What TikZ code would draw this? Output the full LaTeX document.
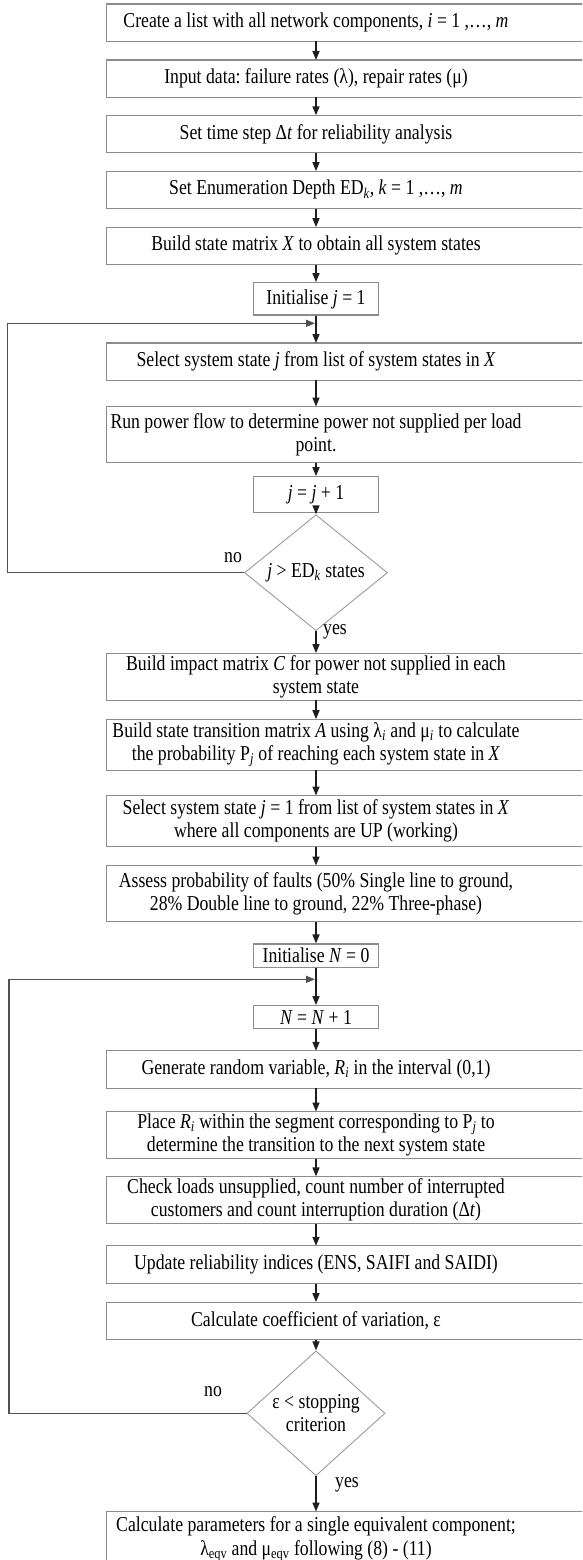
\documentclass[tikz,border=0pt]{standalone}
\usepackage{fontspec}
\setmainfont{Liberation Serif}[FakeStretch=0.836]
\usetikzlibrary{arrows.meta, positioning, shapes.geometric}
\definecolor{cline}{HTML}{8C8C8C}
\definecolor{cdia}{HTML}{9A9A9A}
\definecolor{carrow}{HTML}{1E1E1E}
\definecolor{cloop}{HTML}{505050}
\tikzset{
  every picture/.style={font=\fontsize{21.2}{23.3}\selectfont\frenchspacing},
  box/.style={align=flush center, text width=418pt, inner xsep=0pt, inner ysep=2pt, minimum height=#1},
  box/.default=37pt,
  tinybox/.style={draw=cline, line width=1.2pt, minimum width=125pt, inner ysep=1pt, minimum height=#1},
  tinybox/.default=36pt,
  boxline/.style={draw=cline, line width=1.2pt},
  arrow/.style={-{Triangle[length=9pt, width=7pt]}, draw=carrow, line width=1.5pt},
  backline/.style={arrow, draw=cloop, line width=1.3pt},
}

\begin{document}
\begin{tikzpicture}[x=1pt, y=-1pt,
  decision/.style={diamond, draw=cdia, line width=0.9pt, inner sep=0pt, align=flush center},
  lbl/.style={inner sep=0pt}]
  \useasboundingbox (0,0) rectangle (582,1560);
  \clip (0,0) rectangle (582,1560);
  % set-up
  \node[box] (c1) at (316,22.8) {Create a list with all network components, \textit{i} = 1 ,…, \textit{m}};
  \node[box] (c2) at (316,78.7) {Input data: failure rates (λ), repair rates (μ)};
  \node[box] (c3) at (316,134) {Set time step Δ\textit{t} for reliability analysis};
  \node[box] (c4) at (316,189.8) {Set Enumeration Depth ED\textsubscript{\textit{k}}, \textit{k} = 1 ,…, \textit{m}};
  \node[box] (c5) at (316,245.8) {Build state matrix \textit{X} to obtain all system states};
  % enumeration loop
  \node[tinybox=32.3pt] (initj) at (316,298.9) {Initialise \textit{j} = 1};
  \node[box] (selj) at (316,361.7) {Select system state \textit{j} from list of system states in \textit{X}};
  \node[box=55.6pt] (flow) at (316,434.5) {Run power flow to determine power not supplied per load\\point.};
  \node[tinybox] (incj) at (316,494.7) {\textit{j} = \textit{j} + 1};
  \node[decision, minimum width=143pt, minimum height=87pt] (dia1) at (316,572.7) {\textit{j} > ED\textsubscript{\textit{k}} states};
  \node[lbl] (no1) at (233,557.7) {no};
  \node[lbl] (yes1) at (335,631.7) {yes};
  % matrices
  \node[box=46.7pt] (impact) at (316,676.7) {Build impact matrix \textit{C} for power not supplied in each\\system state};
  \node[box=50.7pt] (trans) at (316,744.7) {Build state transition matrix \textit{A} using λ\textsubscript{\textit{i}} and μ\textsubscript{\textit{i}} to calculate\\the probability P\textsubscript{\textit{j}} of reaching each system state in \textit{X}};
  \node[box=50.6pt] (selone) at (316,821) {Select system state \textit{j} = 1 from list of system states in \textit{X}\\where all components are UP (working)};
  \node[box=55.6pt] (faults) at (316,893.5) {Assess probability of faults (50\% Single line to ground,\\28\% Double line to ground, 22\% Three-phase)};
  % simulation loop
  \node[tinybox=23.3pt] (initn) at (316,955.7) {Initialise \textit{N} = 0};
  \node[tinybox=22.6pt] (incn) at (316,1017) {\textit{N} = \textit{N} + 1};
  \node[box] (rand) at (316,1069.5) {Generate random variable, \textit{R\textsubscript{i}} in the interval (0,1)};
  \node[box=46.6pt] (place) at (316,1135) {Place \textit{R\textsubscript{i}} within the segment corresponding to P\textsubscript{\textit{j}} to\\determine the transition to the next system state};
  \node[box=46.6pt] (check) at (316,1200) {Check loads unsupplied, count number of interrupted\\customers and count interruption duration (Δ\textit{t})};
  \node[box=37.3pt] (update) at (316,1264.7) {Update reliability indices (ENS, SAIFI and SAIDI)};
  \node[box] (coeff) at (316,1320.8) {Calculate coefficient of variation, ε};
  \node[decision, minimum width=138pt, minimum height=111pt] (dia2) at (316,1413.3) {ε < stopping\\criterion};
  \node[lbl] (no2) at (213,1391.7) {no};
  \node[lbl] (yes2) at (347,1485) {yes};
  \node[box=55pt] (final) at (316,1539.2) {Calculate parameters for a single equivalent component;\\λ\textsubscript{eqv} and μ\textsubscript{eqv} following (8) - (11)};
  % open boxes, cut on the right
  \foreach \n in {c1,c2,c3,c4,c5,selj,flow,impact,trans,selone,faults,rand,place,check,update,coeff,final}
    \draw[boxline] ([xshift=80pt]\n.north east) -- (\n.north west) -- (\n.south west) -- ([xshift=80pt]\n.south east);
  % flow
  \foreach \a/\b in {c1/c2, c2/c3, c3/c4, c4/c5, c5/initj, initj/selj, selj/flow, flow/incj, incj/dia1,
      dia1/impact, impact/trans, trans/selone, selone/faults, faults/initn, initn/incn, incn/rand,
      rand/place, place/check, check/update, update/coeff, coeff/dia2, dia2/final}
    \draw[arrow] (\a) -- (\b);
  % back loops
  \coordinate (back1) at (315,323.3);
  \coordinate (left1) at (7.3,323.3);
  \draw[backline] (dia1.west) -| (left1) -- (back1);
  \coordinate (back2) at (315,979.3);
  \coordinate (left2) at (9,979.3);
  \draw[backline] (dia2.west) -| (left2) -- (back2);
\end{tikzpicture}
\end{document}
